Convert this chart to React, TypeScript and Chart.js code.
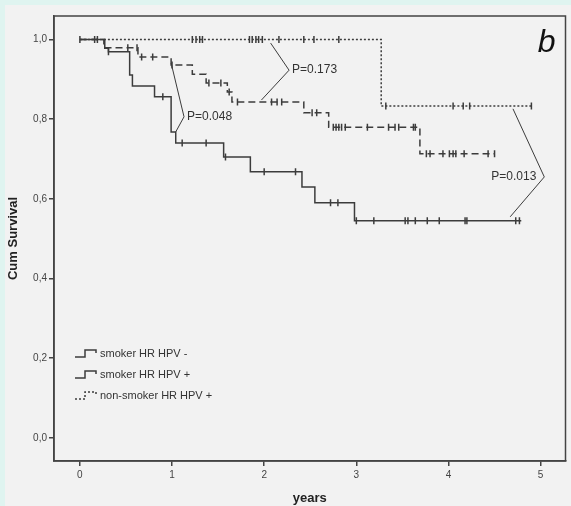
import React, { useEffect, useRef } from 'react';
import { Chart, registerables } from 'chart.js';

Chart.register(...registerables);

const FONT = '"Liberation Sans", Arial, sans-serif';
const LINE_COLOR = '#3c3c3c';

// axis ticks
const xTickValues = [0, 1, 2, 3, 4, 5];
const yTickValues = [0, 0.2, 0.4, 0.6, 0.8, 1.0];

// legend
const legendLabels = ['smoker HR HPV -', 'smoker HR HPV +', 'non-smoker HR HPV +'];

// solid curve (lowest)
const solidTimes = [0, 0.27, 0.31, 0.54, 0.57, 0.81, 0.99, 1.04, 1.56, 1.85, 2.41, 2.55, 2.98, 4.79];
const solidSurv = [1, 0.978, 0.969, 0.911, 0.883, 0.856, 0.768, 0.74, 0.705, 0.668, 0.63, 0.59, 0.545, 0.545];
const solidCensored = [0.31, 0.9, 1.11, 1.37, 1.58, 2.0, 2.34, 2.72, 2.8, 3.0, 3.19, 3.53, 3.56, 3.64, 3.77, 3.9, 4.18, 4.2, 4.73, 4.77];

// dashed curve (middle)
const dashedTimes = [0, 0.26, 0.63, 0.99, 1.22, 1.37, 1.6, 1.65, 2.43, 2.7, 3.69, 4.5];
const dashedSurv = [1, 0.979, 0.956, 0.936, 0.913, 0.891, 0.868, 0.843, 0.816, 0.78, 0.713, 0.713];
const dashedCensored = [0.52, 0.62, 0.67, 0.79, 1.0, 1.4, 1.53, 1.62, 1.71, 2.08, 2.14, 2.19, 2.52, 2.57, 2.75, 2.78, 2.81, 2.84, 2.88, 3.12, 3.35, 3.42, 3.46, 3.62, 3.64, 3.76, 3.8, 3.94, 4.01, 4.05, 4.08, 4.17, 4.43, 4.5];

// dotted curve (top)
const dottedTimes = [0, 3.27, 4.9];
const dottedSurv = [1, 0.833, 0.833];
const dottedCensored = [0, 0.16, 0.19, 1.22, 1.26, 1.3, 1.33, 1.84, 1.87, 1.91, 1.94, 1.98, 2.16, 2.43, 2.54, 2.81, 3.32, 4.05, 4.16, 4.23, 4.9];

// p-value brackets (data coordinates)
const pTexts = ['P=0.048', 'P=0.173', 'P=0.013'];
const pFromT = [0.99, 2.07, 4.7];
const pFromS = [0.941, 0.991, 0.826];
const pVertexT = [1.13, 2.27, 5.04];
const pVertexS = [0.806, 0.923, 0.655];
const pToT = [1.04, 1.97, 4.67];
const pToS = [0.768, 0.848, 0.555];
const pAlign = ['left', 'left', 'right'];

function survivalAt(times: number[], surv: number[], t: number) {
  let v = surv[0];
  for (let i = 0; i < times.length; i++) {
    if (times[i] <= t + 1e-9) v = surv[i];
  }
  return v;
}

function curvePoints(times: number[], surv: number[]) {
  return times.map((t, i) => ({ x: t, y: surv[i] }));
}

function censorPoints(times: number[], surv: number[], cens: number[]) {
  return cens.map((t) => ({ x: t, y: survivalAt(times, surv, t) }));
}

const bgPlugin = {
  id: 'bg',
  beforeDraw(chart: any) {
    const { ctx, width, height } = chart;
    ctx.save();
    ctx.fillStyle = '#dff4f0';
    ctx.fillRect(0, 0, width, height);
    ctx.fillStyle = '#f2f2f2';
    ctx.fillRect(5, 5, width - 5, height - 5);
    ctx.restore();
  },
};

const framePlugin = {
  id: 'frame',
  afterDraw(chart: any) {
    const { ctx, chartArea } = chart;
    ctx.save();
    ctx.strokeStyle = '#444';
    ctx.lineWidth = 1.5;
    ctx.strokeRect(chartArea.left, chartArea.top, chartArea.right - chartArea.left, chartArea.bottom - chartArea.top);
    // panel letter
    ctx.fillStyle = '#111';
    ctx.font = 'italic 32px ' + FONT;
    ctx.textAlign = 'right';
    ctx.textBaseline = 'alphabetic';
    ctx.fillText('b', chartArea.right - 10, chartArea.top + 36);
    ctx.restore();
  },
};

const annotationPlugin = {
  id: 'pvals',
  afterDatasetsDraw(chart: any) {
    const { ctx, scales } = chart;
    const xs = scales.x;
    const ys = scales.y;
    ctx.save();
    ctx.strokeStyle = '#3c3c3c';
    ctx.lineWidth = 1;
    ctx.fillStyle = '#333';
    ctx.font = '12px ' + FONT;
    ctx.textBaseline = 'middle';
    for (let i = 0; i < pTexts.length; i++) {
      const x1 = xs.getPixelForValue(pFromT[i]);
      const y1 = ys.getPixelForValue(pFromS[i]);
      const xv = xs.getPixelForValue(pVertexT[i]);
      const yv = ys.getPixelForValue(pVertexS[i]);
      const x2 = xs.getPixelForValue(pToT[i]);
      const y2 = ys.getPixelForValue(pToS[i]);
      ctx.beginPath();
      ctx.moveTo(x1, y1);
      ctx.lineTo(xv, yv);
      ctx.lineTo(x2, y2);
      ctx.stroke();
      if (pAlign[i] === 'left') {
        ctx.textAlign = 'left';
        ctx.fillText(pTexts[i], xv + 3, yv);
      } else {
        ctx.textAlign = 'right';
        ctx.fillText(pTexts[i], xv - 8, yv);
      }
    }
    ctx.restore();
  },
};

const legendDashes = [[], [], [2, 2]];

const legendPlugin = {
  id: 'kmLegend',
  afterDraw(chart: any) {
    const { ctx, chartArea } = chart;
    ctx.save();
    ctx.font = '11px ' + FONT;
    ctx.fillStyle = '#333';
    ctx.textBaseline = 'middle';
    ctx.textAlign = 'left';
    const x0 = chartArea.left + 21;
    const y0 = chartArea.top + 338;
    for (let i = 0; i < legendLabels.length; i++) {
      const y = y0 + i * 21;
      ctx.strokeStyle = LINE_COLOR;
      ctx.lineWidth = 1.5;
      ctx.setLineDash(legendDashes[i]);
      ctx.beginPath();
      ctx.moveTo(x0, y + 3);
      ctx.lineTo(x0 + 10, y + 3);
      ctx.lineTo(x0 + 10, y - 4);
      ctx.lineTo(x0 + 21, y - 4);
      ctx.lineTo(x0 + 21, y - 1);
      ctx.stroke();
      ctx.setLineDash([]);
      ctx.fillText(legendLabels[i], x0 + 25, y);
    }
    ctx.restore();
  },
};

function lineDataset(times: number[], surv: number[], dash: number[]) {
  return {
    data: curvePoints(times, surv),
    borderColor: LINE_COLOR,
    borderWidth: 1.5,
    borderDash: dash,
    stepped: true,
    pointRadius: 0,
    fill: false,
  };
}

function censorDataset(times: number[], surv: number[], cens: number[]) {
  return {
    data: censorPoints(times, surv, cens),
    showLine: false,
    pointStyle: 'line',
    rotation: 90,
    pointRadius: 3.5,
    pointBorderWidth: 1.5,
    borderColor: LINE_COLOR,
    backgroundColor: LINE_COLOR,
    pointBorderColor: LINE_COLOR,
  };
}

export default function App() {
  const canvasRef = useRef<HTMLCanvasElement | null>(null);

  useEffect(() => {
    const canvas = canvasRef.current;
    if (!canvas) return;
    const chart = new Chart(canvas, {
      type: 'line',
      data: {
        datasets: [
          lineDataset(dottedTimes, dottedSurv, [2, 2]),
          lineDataset(dashedTimes, dashedSurv, [7, 4]),
          lineDataset(solidTimes, solidSurv, []),
          censorDataset(dottedTimes, dottedSurv, dottedCensored),
          censorDataset(dashedTimes, dashedSurv, dashedCensored),
          censorDataset(solidTimes, solidSurv, solidCensored),
        ] as any,
      },
      options: {
        responsive: false,
        animation: false,
        layout: { padding: { left: 0, right: 3, top: 16, bottom: 0 } },
        plugins: {
          legend: { display: false },
          tooltip: { enabled: false },
        },
        scales: {
          x: {
            type: 'linear',
            min: -0.281,
            max: 5.27,
            afterBuildTicks: (s: any) => {
              s.ticks = xTickValues.map((v) => ({ value: v }));
            },
            afterFit: (s: any) => {
              s.height = 45;
            },
            ticks: {
              callback: (v: any) => String(v),
              font: { size: 10, family: FONT },
              color: '#444',
              padding: 3,
              maxRotation: 0,
              autoSkip: false,
            },
            grid: { drawOnChartArea: false, drawTicks: true, tickLength: 5, color: '#444', lineWidth: 1.5 },
            border: { display: true, color: '#444', width: 1.5 },
            title: {
              display: true,
              text: 'years',
              font: { size: 13, weight: 'bold', family: FONT },
              color: '#222',
              padding: { top: 0, bottom: 0 },
            },
          },
          y: {
            type: 'linear',
            min: -0.058,
            max: 1.059,
            afterBuildTicks: (s: any) => {
              s.ticks = yTickValues.map((v) => ({ value: v }));
            },
            afterFit: (s: any) => {
              s.width = 54;
            },
            ticks: {
              callback: (v: any) => Number(v).toFixed(1).replace('.', ','),
              font: { size: 10, family: FONT },
              color: '#444',
              padding: 2,
              autoSkip: false,
            },
            grid: { drawOnChartArea: false, drawTicks: true, tickLength: 5, color: '#444', lineWidth: 1.5 },
            border: { display: true, color: '#444', width: 1.5 },
            title: {
              display: true,
              text: 'Cum Survival',
              font: { size: 13, weight: 'bold', family: FONT },
              color: '#222',
              padding: { top: 6, bottom: 0 },
            },
          },
        },
      } as any,
      plugins: [bgPlugin, framePlugin, annotationPlugin, legendPlugin],
    });
    return () => chart.destroy();
  }, []);

  return (
    <div style={{ position: 'absolute', left: 0, top: 0, width: 571, height: 506 }}>
      <canvas ref={canvasRef} width={571} height={506} style={{ display: 'block', width: 571, height: 506 }} />
    </div>
  );
}
